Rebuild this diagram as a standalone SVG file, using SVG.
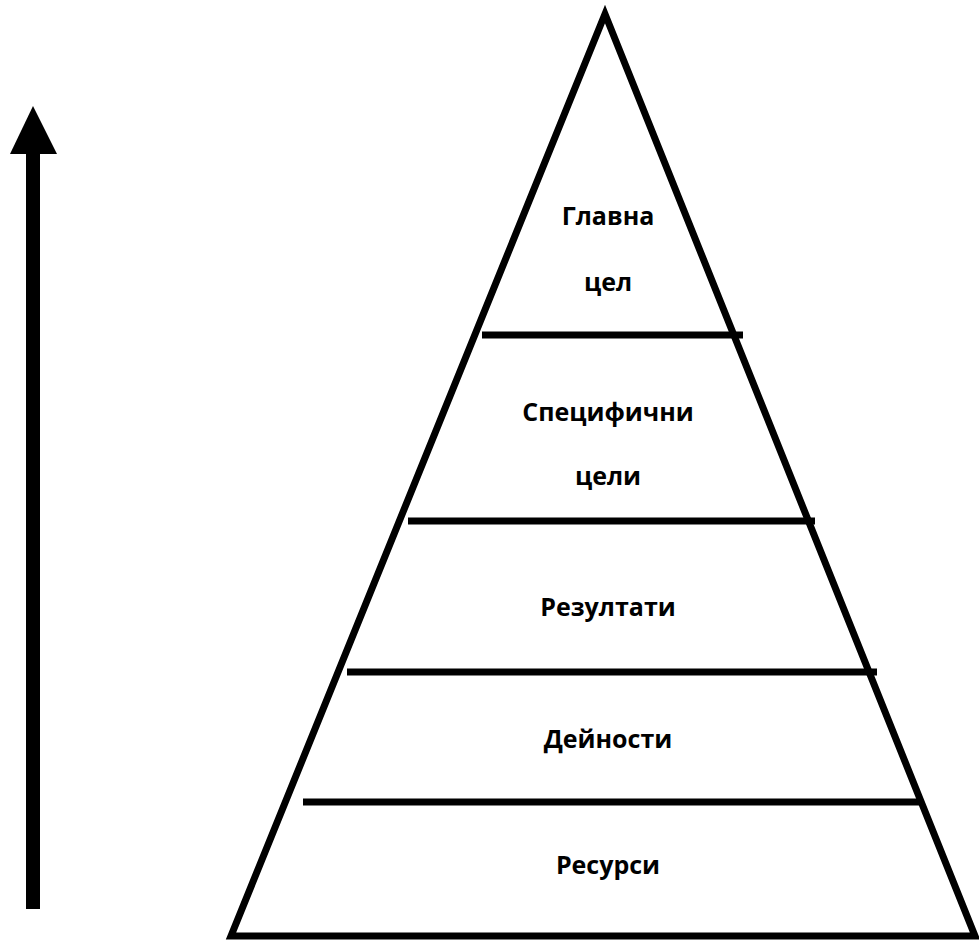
<svg xmlns="http://www.w3.org/2000/svg" width="979" height="940" viewBox="0 0 979 940">
<style>
.ln{stroke:#000;fill:none;stroke-width:7}
.lbl{font-family:"Open Sans","Liberation Sans",sans-serif;font-weight:bold;font-size:25px;fill:#000;text-anchor:middle}
</style>
<rect width="979" height="940" fill="#fff"/>
<g id="pyramid">
<polygon class="ln" points="605,14 231,936 975,936" stroke-linejoin="miter"/>
</g>
<g id="connectors">
<line class="ln" x1="482" y1="335" x2="743" y2="335"/>
<line class="ln" x1="408" y1="521" x2="815" y2="521"/>
<line class="ln" x1="347" y1="672" x2="877" y2="672"/>
<line class="ln" x1="303" y1="802" x2="922" y2="802"/>
</g>
<g id="arrow">
<rect x="26" y="150" width="14" height="759" fill="#000"/>
<polygon points="33,106 10,154 57,154" fill="#000"/>
</g>
<g id="level-main"><text class="lbl" x="608" y="225">Главна</text><text class="lbl" x="608" y="291">цел</text></g>
<g id="level-specific"><text class="lbl" x="608" y="421">Специфични</text><text class="lbl" x="608" y="485">цели</text></g>
<g id="level-results"><text class="lbl" x="608" y="616">Резултати</text></g>
<g id="level-activities"><text class="lbl" x="608" y="748">Дейности</text></g>
<g id="level-resources"><text class="lbl" x="608" y="874">Ресурси</text></g>
</svg>
